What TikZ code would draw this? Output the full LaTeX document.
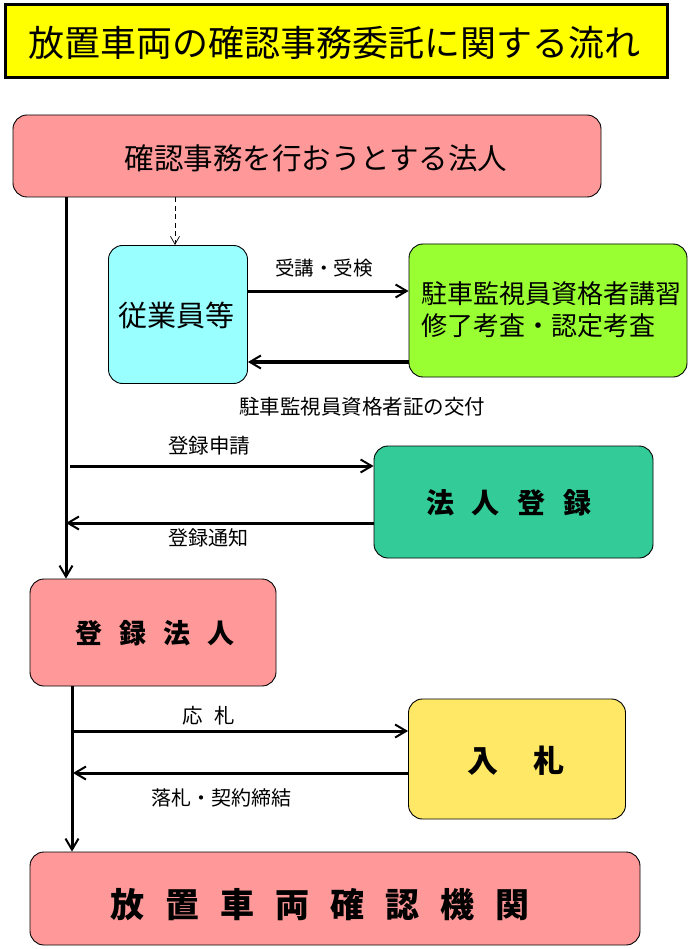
\documentclass[tikz,border=0pt]{standalone}
\usepackage{fontspec}
\setmainfont{Noto Sans CJK JP}
\usetikzlibrary{arrows.meta}
\definecolor{pinkbox}{HTML}{FF9999}
\definecolor{cyanbox}{HTML}{99FFFF}
\definecolor{greenbox}{HTML}{99FF33}
\definecolor{tealbox}{HTML}{33CC99}
\definecolor{yellowbox}{HTML}{FFE866}
\definecolor{titleyellow}{HTML}{FFFF00}
\newcommand{\fs}[1]{\fontsize{#1}{#1}\selectfont}
\tikzset{
  box/.style={draw=black, line width=0.9pt, rounded corners=14pt, inner sep=0pt},
  txt/.style={inner sep=0pt, text=black},
  flow/.style={line width=3pt, -{Straight Barb[length=11pt,width=13pt,line width=2pt]}},
  dashflow/.style={line width=0.7pt, dash pattern=on 5pt off 3.5pt, -{Straight Barb[length=8pt,width=9pt,line width=0.7pt]}},
}
\begin{document}
\begin{tikzpicture}[x=1pt,y=-1pt]
\useasboundingbox[fill=white] (0,0) rectangle (691,949);
% title
\node[draw=black, line width=3pt, fill=titleyellow, minimum width=662pt, minimum height=73pt, inner sep=0pt] (title) at (336,41.5) {};
\node[txt] (titletxt) at (334,43) {\fs{36}放置車両の確認事務委託に関する流れ};
% boxes
\node[box, fill=pinkbox, minimum width=588pt, minimum height=82pt] (top) at (307,156) {};
\node[txt] (toptxt) at (316,158) {\fs{29.5}確認事務を行おうとする法人};
\node[box, fill=cyanbox, minimum width=139pt, minimum height=138pt] (emp) at (178,314.5) {};
\node[txt] (emptxt) at (176,315) {\fs{29}従業員等};
\node[box, fill=greenbox, minimum width=278pt, minimum height=133pt] (exam) at (548,310.5) {};
\node[txt, align=left] (examtxt) at (551,310) {\fs{26}駐車監視員資格者講習\\[7pt]\fs{26}修了考査・認定考査};
\node[box, fill=tealbox, minimum width=279pt, minimum height=112pt] (reg) at (513.5,502) {};
\node[txt] (regtxt) at (509,503) {\fs{28}\bfseries 法\hspace{18pt}人\hspace{18pt}登\hspace{18pt}録};
\node[box, fill=pinkbox, minimum width=246pt, minimum height=107pt] (regcorp) at (153,632.5) {};
\node[txt] (regcorptxt) at (155,633) {\fs{27}\bfseries 登\hspace{17pt}録\hspace{17pt}法\hspace{17pt}人};
\node[box, fill=yellowbox, minimum width=217pt, minimum height=120pt] (bid) at (517,759) {};
\node[txt] (bidtxt) at (516,761) {\fs{31}\bfseries 入\hspace{35pt}札};
\node[box, fill=pinkbox, minimum width=610pt, minimum height=93pt] (agency) at (335,898.5) {};
\node[txt] (agencytxt) at (320,905) {\fs{34}\bfseries 放\hspace{21pt}置\hspace{21pt}車\hspace{21pt}両\hspace{21pt}確\hspace{21pt}認\hspace{21pt}機\hspace{21pt}関};
% trunk coordinates
\coordinate (a1) at (70,466);
\coordinate (a2) at (66,523);
\coordinate (b1) at (73,731);
\coordinate (b2) at (73,773);
% connectors
\draw[flow] (top.south -| 66,0) -- (regcorp.north -| 66,0);
\draw[flow] (regcorp.south -| 72,0) -- (agency.north -| 72,0);
\draw[dashflow] (top.south -| 175,0) -- (emp.north -| 175,0);
\draw[flow] (emp.east |- 0,291) -- (exam.west |- 0,291);
\draw[flow, line width=3.5pt] (exam.west |- 0,362) -- (emp.east |- 0,362);
\draw[flow] (a1) -- (reg.west |- a1);
\draw[flow] (reg.west |- a2) -- (a2);
\draw[flow] (b1) -- (bid.west |- b1);
\draw[flow] (bid.west |- b2) -- (b2);
% labels
\node[txt] (l1) at (324,268) {\fs{19.5}受講・受検};
\node[txt] (l2) at (362,407) {\fs{20.5}駐車監視員資格者証の交付};
\node[txt] (l3) at (209,446) {\fs{20.5}登録申請};
\node[txt] (l4) at (208,538) {\fs{20}登録通知};
\node[txt] (l5) at (209,716) {\fs{20.5}応\hspace{12pt}札};
\node[txt] (l6) at (221,798) {\fs{20}落札・契約締結};
\end{tikzpicture}
\end{document}
